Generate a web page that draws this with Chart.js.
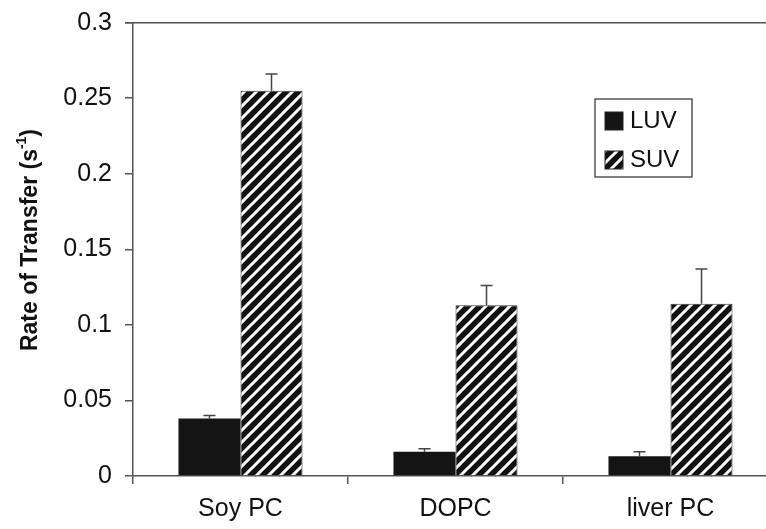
<!DOCTYPE html>
<html>
<head>
<meta charset="utf-8">
<script src="https://cdn.jsdelivr.net/npm/chart.js@4"></script>
<style>
  html, body { margin: 0; padding: 0; background: #fff; overflow: hidden; }
  #wrap { width: 780px; height: 529px; }
</style>
</head>
<body>
<div id="wrap"><canvas id="rateChart"></canvas></div>
<script>
// data
const categories = ['Soy PC', 'DOPC', 'liver PC'];
const luvValues = [0.038, 0.016, 0.013];
const luvErrors = [0.002, 0.002, 0.003];
const suvValues = [0.255, 0.113, 0.114];
const suvErrors = [0.011, 0.013, 0.023];
const yTicks = [0, 0.05, 0.1, 0.15, 0.2, 0.25, 0.3];

const FONT = '"Liberation Sans", Arial, sans-serif';

// diagonal hatch for SUV bars
function makeHatch() {
    const s = 12;
    const c = document.createElement('canvas');
    c.width = s; c.height = s;
    const g = c.getContext('2d');
    g.fillStyle = '#111';
    g.fillRect(0, 0, s, s);
    g.strokeStyle = '#fff';
    g.lineWidth = 3;
    g.beginPath();
    g.moveTo(-1, s + 1); g.lineTo(s + 1, -1);
    g.moveTo(-s / 2, s / 2); g.lineTo(s / 2, -s / 2);
    g.moveTo(s / 2, s * 1.5); g.lineTo(s * 1.5, s / 2);
    g.stroke();
    return g.createPattern(c, 'repeat');
}
const hatch = makeHatch();

// error bars (upper only)
const errorBars = {
    id: 'errorBars',
    afterDatasetsDraw(chart) {
        const ctx = chart.ctx;
        const y = chart.scales.y;
        chart.data.datasets.forEach((ds, i) => {
            const meta = chart.getDatasetMeta(i);
            meta.data.forEach((bar, j) => {
                const top = y.getPixelForValue(ds.data[j]);
                const end = y.getPixelForValue(ds.data[j] + ds.errors[j]);
                ctx.save();
                ctx.strokeStyle = '#444';
                ctx.lineWidth = 1.5;
                ctx.beginPath();
                ctx.moveTo(bar.x, top);
                ctx.lineTo(bar.x, end);
                ctx.moveTo(bar.x - 6, end);
                ctx.lineTo(bar.x + 6, end);
                ctx.stroke();
                ctx.restore();
            });
        });
    }
};

// top frame line, y title and the boxed legend
const decorations = {
    id: 'decorations',
    afterDraw(chart) {
        const ctx = chart.ctx;
        const area = chart.chartArea;
        ctx.save();
        ctx.strokeStyle = '#555';
        ctx.lineWidth = 1.5;
        ctx.beginPath();
        ctx.moveTo(area.left - 8, area.top);
        ctx.lineTo(chart.width, area.top);
        ctx.stroke();

        // axis title with superscript
        ctx.translate(31, 240);
        ctx.rotate(-Math.PI / 2);
        ctx.fillStyle = '#111';
        ctx.textBaseline = 'middle';
        const main = 'Rate of Transfer (s';
        const sup = '-1';
        ctx.font = 'bold 23px ' + FONT;
        const w1 = ctx.measureText(main).width;
        const w3 = ctx.measureText(')').width;
        ctx.font = 'bold 14px ' + FONT;
        const w2 = ctx.measureText(sup).width;
        let x = -(w1 + w2 + w3) / 2;
        ctx.font = 'bold 23px ' + FONT;
        ctx.textAlign = 'left';
        ctx.fillText(main, x, 0);
        ctx.font = 'bold 14px ' + FONT;
        ctx.fillText(sup, x + w1, -9);
        ctx.font = 'bold 23px ' + FONT;
        ctx.fillText(')', x + w1 + w2, 0);
        ctx.restore();

        // legend
        ctx.save();
        ctx.strokeStyle = '#555';
        ctx.lineWidth = 1.5;
        ctx.strokeRect(595, 99, 97, 78);
        const items = chart.data.datasets;
        const rows = [112, 151];
        items.forEach((ds, i) => {
            ctx.fillStyle = ds.backgroundColor;
            ctx.fillRect(605, rows[i], 18, 18);
            ctx.strokeStyle = '#222';
            ctx.lineWidth = 1;
            ctx.strokeRect(605, rows[i], 18, 18);
            ctx.fillStyle = '#111';
            ctx.font = '24px ' + FONT;
            ctx.textBaseline = 'alphabetic';
            ctx.textAlign = 'left';
            ctx.fillText(ds.label, 630, rows[i] + 16);
        });
        ctx.restore();
    }
};

new Chart(document.getElementById('rateChart'), {
    type: 'bar',
    data: {
        labels: categories,
        datasets: [
            {
                label: 'LUV',
                data: luvValues,
                errors: luvErrors,
                backgroundColor: '#141414',
                borderColor: '#141414',
                borderWidth: 0
            },
            {
                label: 'SUV',
                data: suvValues,
                errors: suvErrors,
                backgroundColor: hatch,
                borderColor: '#333',
                borderWidth: 1
            }
        ]
    },
    options: {
        responsive: true,
        maintainAspectRatio: false,
        animation: false,
        layout: { padding: { top: 22.7, left: 0, right: 2, bottom: 0 } },
        plugins: {
            legend: { display: false },
            tooltip: { enabled: false }
        },
        datasets: {
            bar: { categoryPercentage: 0.577, barPercentage: 1 }
        },
        scales: {
            x: {
                grid: {
                    display: true,
                    drawOnChartArea: false,
                    offset: true,
                    tickLength: 8,
                    color: '#555',
                    lineWidth: 1.5
                },
                border: { color: '#555', width: 1.5 },
                ticks: {
                    color: '#111',
                    font: { size: 25, family: FONT },
                    padding: 10
                },
                afterFit: s => { s.height = 53; s.paddingLeft = 0; s.paddingRight = 0; }
            },
            y: {
                min: 0,
                max: 0.3,
                afterBuildTicks: s => { s.ticks = yTicks.map(v => ({ value: v })); },
                grid: {
                    display: true,
                    drawOnChartArea: false,
                    tickLength: 8,
                    color: '#555',
                    lineWidth: 1.5
                },
                border: { color: '#555', width: 1.5 },
                ticks: {
                    color: '#111',
                    font: { size: 25, family: FONT },
                    padding: 13,
                    callback: v => String(v)
                },
                afterFit: s => { s.width = 133; s.paddingTop = 0; s.paddingBottom = 0; }
            }
        }
    },
    plugins: [errorBars, decorations]
});
</script>
</body>
</html>
